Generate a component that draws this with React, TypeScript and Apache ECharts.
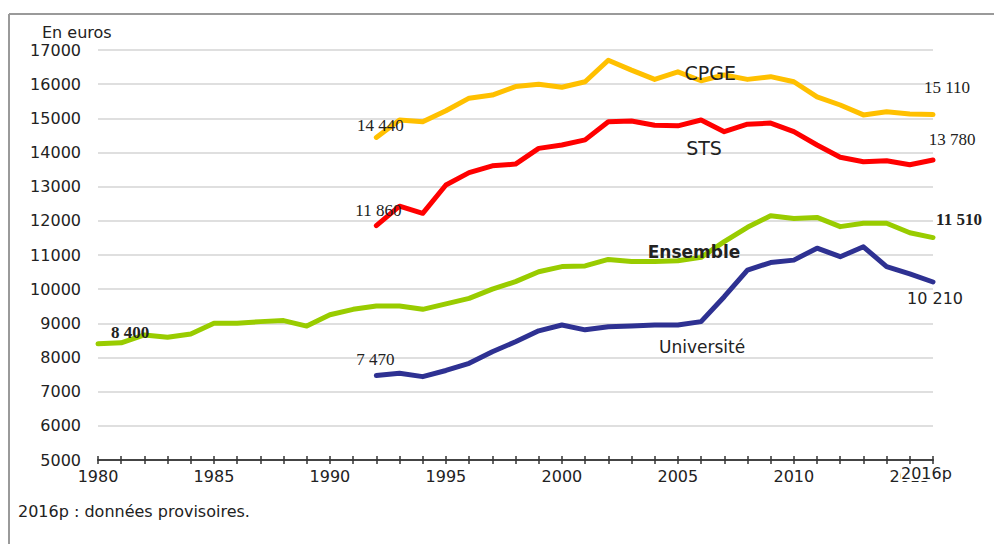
import React, { useEffect, useRef } from "react";
import * as echarts from "echarts";

const years = ["1980","1981","1982","1983","1984","1985","1986","1987","1988","1989","1990","1991","1992","1993","1994","1995","1996","1997","1998","1999","2000","2001","2002","2003","2004","2005","2006","2007","2008","2009","2010","2011","2012","2013","2014","2015","2016"];

const cpge = [null,null,null,null,null,null,null,null,null,null,null,null,14440,14950,14900,15220,15590,15680,15930,16000,15910,16070,16700,16410,16140,16360,16100,16270,16140,16220,16070,15630,15390,15100,15190,15130,15110];
const sts = [null,null,null,null,null,null,null,null,null,null,null,null,11860,12430,12220,13050,13410,13610,13660,14120,14220,14370,14900,14920,14800,14780,14950,14610,14830,14860,14610,14220,13860,13730,13760,13640,13780];
const ensemble = [8400,8430,8660,8590,8690,9000,9000,9050,9080,8920,9250,9410,9510,9510,9410,9570,9730,10000,10220,10510,10660,10680,10870,10810,10810,10830,10930,11390,11810,12150,12070,12100,11830,11930,11930,11650,11510];
const universite = [null,null,null,null,null,null,null,null,null,null,null,null,7470,7540,7440,7620,7830,8170,8460,8780,8950,8810,8900,8920,8950,8950,9050,9780,10560,10780,10850,11200,10950,11240,10660,10450,10210];

const yTicks = [5000, 17000, 1000];

const SANS = "DejaVu Sans";
const SERIF = "Liberation Serif";

function mp(coordX: string, coordY: number, text: string, offset: number[], font: string, size: number, weight: string, color = "#222") {
  return {
    coord: [coordX, coordY],
    symbol: "rect",
    symbolSize: 1,
    itemStyle: { color: "rgba(0,0,0,0)" },
    label: {
      show: true,
      position: "inside",
      formatter: text,
      offset,
      fontFamily: font,
      fontSize: size,
      fontWeight: weight,
      color,
      align: "center",
      verticalAlign: "middle",
    },
  };
}

function val(arr: (number | null)[], year: string): number {
  return arr[years.indexOf(year)] as number;
}

export default function App() {
  const ref = useRef<HTMLDivElement>(null);
  useEffect(() => {
    if (!ref.current) return;
    const chart = echarts.init(ref.current, null, { renderer: "svg" });
    const lineBase = (name: string, data: (number | null)[], color: string, marks: any[]) => ({
      name,
      type: "line",
      data,
      symbol: "none",
      xAxisIndex: 0,
      yAxisIndex: 0,
      lineStyle: { color, width: 5, cap: "round", join: "round" },
      itemStyle: { color },
      markPoint: { silent: true, data: marks },
      z: 3,
    });
    chart.setOption({
      animation: false,
      backgroundColor: "#ffffff",
      grid: { left: 98, right: 61, top: 50, bottom: 84, containLabel: false },
      xAxis: [
        {
          type: "category",
          data: years,
          boundaryGap: false,
          axisLine: { show: true, lineStyle: { color: "#444", width: 2 } },
          axisTick: { show: true, interval: 0, length: 4, lineStyle: { color: "#333", width: 1.5 } },
          axisLabel: {
            interval: (idx: number) => idx % 5 === 0 && idx < 36,
            color: "#222",
            fontFamily: SANS,
            fontSize: 16,
            margin: 8,
          },
          splitLine: { show: false },
        },
        {
          type: "category",
          data: years,
          boundaryGap: false,
          position: "bottom",
          axisLine: { show: false },
          axisTick: { show: true, inside: true, interval: 0, length: 4, lineStyle: { color: "#333", width: 1.5 } },
          axisLabel: { show: false },
          splitLine: { show: false },
        },
      ],
      yAxis: {
        type: "value",
        min: yTicks[0],
        max: yTicks[1],
        interval: yTicks[2],
        axisLine: { show: false },
        axisTick: { show: false },
        axisLabel: { color: "#222", fontFamily: SANS, fontSize: 16, margin: 17, formatter: (v: number) => String(v) },
        splitLine: { lineStyle: { color: "#d4d4d4", width: 1.5 } },
      },
      series: [
        lineBase("CPGE", cpge, "#FFC000", [
          mp("1992", val(cpge, "1992"), "14 440", [4, -12], SERIF, 17, "normal"),
          mp("2016", val(cpge, "2016"), "15 110", [14, -27], SERIF, 17, "normal"),
          mp("2007", val(cpge, "2007"), "CPGE", [-14, -2], SANS, 19, "normal"),
        ]),
        lineBase("STS", sts, "#FF0000", [
          mp("1992", val(sts, "1992"), "11 860", [2, -15], SERIF, 17, "normal"),
          mp("2016", val(sts, "2016"), "13 780", [19, -21], SERIF, 17, "normal"),
          mp("2006", val(sts, "2006"), "STS", [3, 28], SANS, 19, "normal"),
        ]),
        lineBase("Ensemble", ensemble, "#99CC00", [
          mp("1980", val(ensemble, "1980"), "8 400", [32, -11], SERIF, 17, "bold"),
          mp("2016", val(ensemble, "2016"), "11 510", [26, -18], SERIF, 17, "bold"),
          mp("2006", val(ensemble, "2006"), "Ensemble", [-7, -5], SANS, 17, "bold"),
        ]),
        lineBase("Université", universite, "#2E3192", [
          mp("1992", val(universite, "1992"), "7 470", [-1, -16], SERIF, 17, "normal"),
          mp("2016", val(universite, "2016"), "10 210", [2, 17], SANS, 16, "normal"),
          mp("2006", val(universite, "2006"), "Université", [1, 25], SANS, 17, "normal"),
        ]),
      ],
      graphic: [
        { type: "line", shape: { x1: 9, y1: 14, x2: 994, y2: 14 }, style: { stroke: "#9a9a9a", lineWidth: 2 }, silent: true },
        { type: "line", shape: { x1: 9, y1: 14, x2: 9, y2: 544 }, style: { stroke: "#9a9a9a", lineWidth: 2 }, silent: true },
        { type: "text", left: 42, top: 24, style: { text: "En euros", fontFamily: SANS, fontSize: 16, fill: "#222" } },
        {
          type: "text",
          x: 901,
          y: 465,
          z: 10,
          style: { text: "2016p", fontFamily: SANS, fontSize: 16, fill: "#222", backgroundColor: "#ffffff", padding: [0, 0, 0, 0] },
        },
        { type: "text", left: 18, top: 503, style: { text: "2016p : données provisoires.", fontFamily: SANS, fontSize: 16, fill: "#222" } },
      ],
    });
    return () => chart.dispose();
  }, []);
  return <div ref={ref} style={{ position: "fixed", left: 0, top: 0, width: 994, height: 544 }} />;
}
